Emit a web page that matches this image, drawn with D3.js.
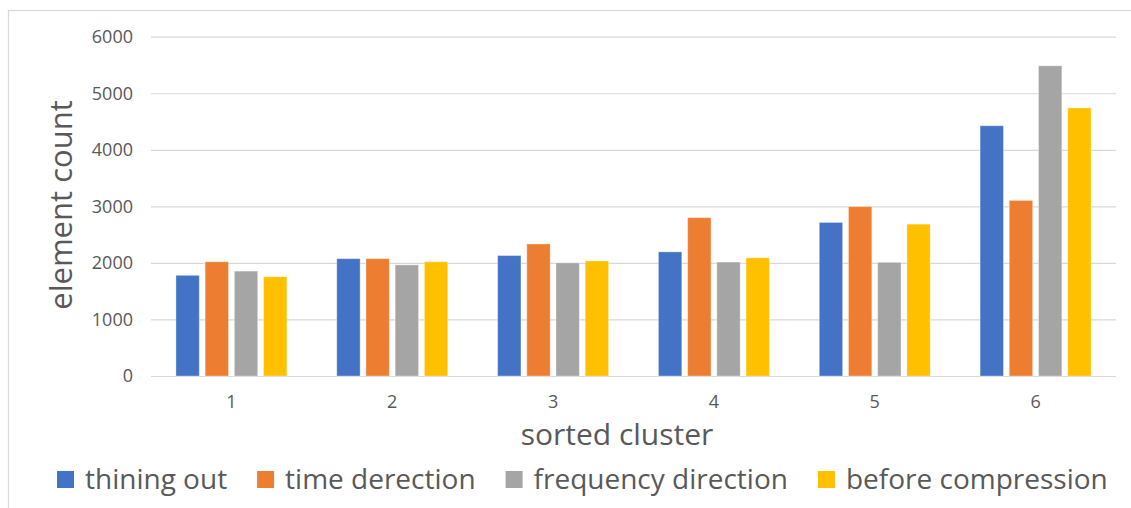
<!DOCTYPE html>
<html>
<head>
<meta charset="utf-8">
<script src="https://cdn.jsdelivr.net/npm/d3@7/dist/d3.min.js"></script>
<style>
  html, body { margin: 0; padding: 0; background: #fff; }
  svg { display: block; }
  text { font-family: "Open Sans", "Noto Sans", sans-serif; fill: #595959; }
</style>
</head>
<body>
<svg id="chart" width="1131" height="508"></svg>
<script>
const categories = ["1", "2", "3", "4", "5", "6"];
const seriesNames = ["thining out", "time derection", "frequency direction", "before compression"];
const seriesColors = ["#4472C4", "#ED7D31", "#A5A5A5", "#FFC000"];
const thiningOut = [1780, 2075, 2130, 2195, 2715, 4425];
const timeDerection = [2020, 2075, 2335, 2800, 2995, 3105];
const frequencyDirection = [1855, 1965, 2000, 2015, 2010, 5485];
const beforeCompression = [1755, 2020, 2035, 2090, 2685, 4740];
const yTicks = [0, 1000, 2000, 3000, 4000, 5000, 6000];
const xTitle = "sorted cluster";
const yTitle = "element count";

const seriesValues = [thiningOut, timeDerection, frequencyDirection, beforeCompression];

const svg = d3.select("#chart");
const plot = { left: 151, right: 1116, top: 36.7, bottom: 376 };

// outer chart border
svg.append("rect")
  .attr("x", 8.5).attr("y", 10.5)
  .attr("width", 1140).attr("height", 520)
  .attr("fill", "none").attr("stroke", "#d9d9d9").attr("stroke-width", 1.2);

const x0 = d3.scaleBand().domain(categories).range([plot.left, plot.right])
  .paddingInner(0.31).paddingOuter(0.155);
const x1 = d3.scaleBand().domain(seriesNames).range([0, x0.bandwidth()]).paddingInner(0.2);
const y = d3.scaleLinear().domain([0, 6000]).range([plot.bottom, plot.top]);

// gridlines
const yAxis = d3.axisLeft(y).tickValues(yTicks).tickFormat(d3.format("d"))
  .tickSize(-(plot.right - plot.left)).tickPadding(18);
const gy = svg.append("g").attr("transform", `translate(${plot.left},0)`).call(yAxis);
gy.select(".domain").remove();
gy.selectAll(".tick line").attr("stroke", "#d9d9d9").attr("stroke-width", 1.2);
gy.selectAll(".tick text").attr("font-size", 18).attr("fill", "#595959")
  .attr("font-family", "'Open Sans', sans-serif");

// bars
const groups = svg.append("g").selectAll("g")
  .data(categories)
  .join("g")
  .attr("transform", d => `translate(${x0(d)},0)`);

groups.selectAll("rect")
  .data((c, ci) => seriesNames.map((s, si) => ({ s, si, v: seriesValues[si][ci] })))
  .join("rect")
  .attr("x", d => x1(d.s))
  .attr("width", x1.bandwidth())
  .attr("y", d => y(d.v))
  .attr("height", d => y(0) - y(d.v))
  .attr("fill", d => seriesColors[d.si])
  .attr("stroke", "#ffffff").attr("stroke-opacity", 0.35).attr("stroke-width", 1);

// x axis
const xAxis = d3.axisBottom(x0).tickSize(0).tickPadding(19);
const gx = svg.append("g").attr("transform", `translate(0,${plot.bottom})`).call(xAxis);
gx.select(".domain").remove();
gx.selectAll(".tick text").attr("font-size", 18).attr("fill", "#595959")
  .attr("font-family", "'Open Sans', sans-serif");

// axis titles
svg.append("text").attr("x", 617).attr("y", 445).attr("text-anchor", "middle")
  .attr("font-size", 30).text(xTitle);
svg.append("text").attr("transform", "translate(72,205) rotate(-90)").attr("text-anchor", "middle")
  .attr("font-size", 31).text(yTitle);

// legend
const legend = svg.append("g");
let lx = 57;
seriesNames.forEach((name, i) => {
  legend.append("rect").attr("x", lx).attr("y", 471).attr("width", 17).attr("height", 17)
    .attr("fill", seriesColors[i]);
  const t = legend.append("text").attr("x", lx + 28).attr("y", 489)
    .attr("font-size", 28).text(name);
  lx += 28 + t.node().getComputedTextLength() + 30;
});
</script>
</body>
</html>
